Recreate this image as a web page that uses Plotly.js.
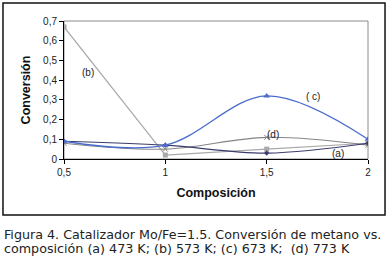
<!DOCTYPE html>
<html><head><meta charset="utf-8">
<script src="https://cdn.plot.ly/plotly-3.0.1.min.js"></script>
<style>html,body{margin:0;padding:0;background:#fff;}#chart{width:390px;height:263px;}</style>
</head><body><div id="chart"></div>
<script>
const composition = [0.5, 1, 1.5, 2];
const seriesA = [0.09, 0.07, 0.03, 0.08];   // (a) 473 K
const seriesB = [0.67, 0.02, 0.05, 0.08];   // (b) 573 K
const seriesC = [0.09, 0.07, 0.32, 0.10];   // (c) 673 K
const seriesD = [0.08, 0.05, 0.11, 0.07];   // (d) 773 K
const xTickVals = [0.5, 1, 1.5, 2];
const xTickText = ["0,5", "1", "1,5", "2"];
const yTickVals = [0, 0.1, 0.2, 0.3, 0.4, 0.5, 0.6, 0.7];
const yTickText = ["0", "0,1", "0,2", "0,3", "0,4", "0,5", "0,6", "0,7"];
const labels = ["(a)", "(b)", "( c)", "(d)"];
const labelX = [1.85, 0.62, 1.73, 1.53];
const labelY = [0.03, 0.44, 0.315, 0.125];
const captionLines = ["Figura 4. Catalizador Mo/Fe=1.5. Conversión de metano vs.", "composición (a) 473 K; (b) 573 K; (c) 673 K;  (d) 773 K"];
const captionY = [-0.55, -0.652];

const traces = [
  {x: composition, y: seriesB, mode: 'lines+markers', line: {color: '#a9a9a9', width: 1.2, shape: 'linear'}, marker: {symbol: 'square', size: 5, color: '#a9a9a9'}},
  {x: composition, y: seriesD, mode: 'lines+markers', line: {color: '#858585', width: 1.2, shape: 'spline'}, marker: {symbol: 'x-thin', size: 5, line: {color: '#858585', width: 1}}},
  {x: composition, y: seriesA, mode: 'lines+markers', line: {color: '#3c3c6e', width: 1.2, shape: 'spline'}, marker: {symbol: 'diamond', size: 4, color: '#3c3c6e'}},
  {x: composition, y: seriesC, mode: 'lines+markers', line: {color: '#4a6ccc', width: 1.3, shape: 'spline'}, marker: {symbol: 'triangle-up', size: 6, color: '#4a6ccc'}}
];

const annotations = labels.map((t, i) => ({x: labelX[i], y: labelY[i], xref: 'x', yref: 'y', text: t, showarrow: false, font: {family: 'Liberation Sans, Arial', size: 10, color: '#222'}}));
captionLines.forEach((t, i) => annotations.push({xref: 'paper', yref: 'paper', x: -0.205, y: captionY[i], xanchor: 'left', yanchor: 'middle', align: 'left', text: t, showarrow: false, font: {family: 'DejaVu Sans', size: 12.7, color: '#222'}}));

const layout = {
  width: 390, height: 263,
  margin: {l: 64, r: 22, t: 21, b: 104},
  paper_bgcolor: '#fff', plot_bgcolor: '#fff',
  showlegend: false,
  xaxis: {range: [0.5, 2], tickvals: xTickVals, ticktext: xTickText, showgrid: false, zeroline: false,
          showline: true, linecolor: '#000', linewidth: 1, ticks: 'outside', ticklen: 4, tickcolor: '#000',
          tickfont: {family: 'Liberation Sans, Arial', size: 10, color: '#222'},
          title: {text: '<b>Composición</b>', font: {family: 'Liberation Sans, Arial', size: 12.5, color: '#111'}, standoff: 11}},
  yaxis: {range: [0, 0.7], tickvals: yTickVals, ticktext: yTickText, showgrid: false, zeroline: false,
          showline: true, linecolor: '#000', linewidth: 1, ticks: 'outside', ticklen: 4, tickcolor: '#000',
          tickfont: {family: 'Liberation Sans, Arial', size: 10, color: '#222'},
          title: {text: '<b>Conversión</b>', font: {family: 'Liberation Sans, Arial', size: 12.5, color: '#111'}, standoff: 9}},
  shapes: [
    {type: 'rect', xref: 'paper', yref: 'paper', x0: 0, x1: 1, y0: 0, y1: 1, line: {color: '#8c8c8c', width: 1}, layer: 'below'},
    {type: 'rect', xref: 'paper', yref: 'paper', x0: -0.2007, x1: 1.056, y0: -0.406, y1: 1.130, line: {color: '#111', width: 1.5}}
  ],
  annotations: annotations
};
Plotly.newPlot('chart', traces, layout, {displayModeBar: false, staticPlot: true});
</script></body></html>
